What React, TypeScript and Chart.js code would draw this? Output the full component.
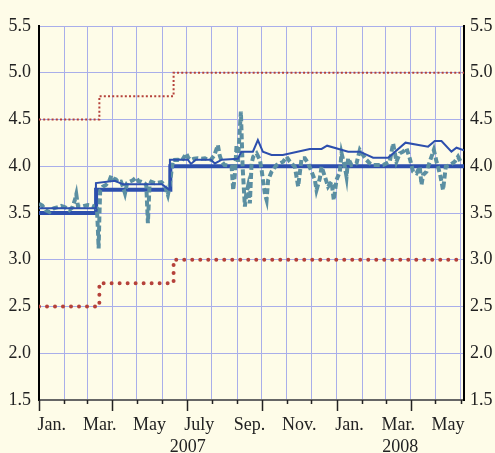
import React, { useEffect, useRef } from 'react';
import { Chart, registerables } from 'chart.js';

Chart.register(...registerables);

// x values are days since 1 Jan 2007
const monthStartDays = [0, 31, 59, 90, 120, 151, 181, 212, 243, 273, 304, 334, 365, 396, 425, 456, 486, 517];
const quarterStartDays = [0, 90, 181, 273, 365, 456];
const monthLabels = ['Jan.', 'Mar.', 'May', 'July', 'Sep.', 'Nov.', 'Jan.', 'Mar.', 'May'];
const monthLabelDays = [15.5, 74.5, 135.5, 196.5, 258, 319, 380.5, 440.5, 501.5];
const yearLabels = ['2007', '2008'];
const yearLabelDays = [182.5, 443];
const xMin = 0;
const xMax = 521;
const yMin = 1.5;
const yMax = 5.5;
const yStep = 0.5;

// Upper and lower bounds (step lines)
const upperDays = [0, 74, 165, 521];
const upperValues = [4.5, 4.75, 5.0, 5.0];
const lowerDays = [0, 74, 165, 521];
const lowerValues = [2.5, 2.75, 3.0, 3.0];

// Target rate (thick step line)
const targetDays = [0, 70, 161, 521];
const targetValues = [3.5, 3.75, 4.0, 4.0];

// Thin blue series
const thinDays = [0, 69, 69.8, 93, 103, 150.7, 159.5, 160.5, 182.5, 186.2, 192.4, 210.7, 215.6, 224.2, 243.8, 248.1, 262.2, 268.3, 274.4, 285.1, 298.9, 332, 346.4, 353.2, 379, 393.3, 409.6, 428, 449.3, 477, 485.2, 493.4, 505.6, 511.8, 521];
const thinValues = [3.55, 3.55, 3.82, 3.845, 3.807, 3.807, 3.75, 4.07, 4.07, 4.025, 4.07, 4.07, 4.03, 4.07, 4.08, 4.156, 4.156, 4.28, 4.156, 4.12, 4.12, 4.185, 4.185, 4.22, 4.156, 4.156, 4.092, 4.092, 4.252, 4.21, 4.27, 4.27, 4.156, 4.198, 4.17];

// Teal dashed series (daily market rate)
const marketDays = [
  0, 4, 8, 13, 18, 22, 27, 32, 37, 41, 44, 45.7, 47.8, 53, 60, 65, 68.2, 71, 72.3, 73.1, 74, 75, 78, 82, 86, 88.6,
  91, 94.3, 97, 100.5, 103, 105.4, 108, 111.1, 115, 119.2, 122, 125, 129.5, 131.5, 133.5, 135.5, 137.6, 142, 145.8,
  150, 154, 158, 160, 162.1, 164.2, 170, 175, 178, 180.5, 183, 186.2, 190, 194.8, 199, 203.4, 207, 210.7, 215, 219.3,
  221.4, 224, 227.5, 231, 236.1, 238.1, 240, 242.2, 243.8, 245.5, 247.5, 249.6, 252.4, 254, 256.1, 258.5, 260.6,
  262.6, 266.7, 270.8, 272.9, 274.8, 277, 279, 280.9, 285.1, 291.2, 299.3, 303.5, 307.5, 313.6, 317.7, 321.9, 325.9,
  329.9, 334.1, 338.2, 340.2, 344.3, 346.4, 350.4, 354.4, 358.6, 361.4, 364.7, 368.8, 370.9, 374.9, 377, 379, 383.1,
  389.2, 393.3, 397.3, 401.5, 405.5, 409.6, 415.7, 421.8, 426, 430, 434.1, 438.2, 442.3, 446.3, 450.5, 454.5, 458.6,
  462.8, 466.8, 468.9, 470.8, 475, 479, 484, 487.3, 489.2, 492.2, 495.3, 498.7, 503.6, 509.7, 513.7, 517.9,
];
const marketValues = [
  3.6, 3.58, 3.53, 3.51, 3.55, 3.56, 3.575, 3.56, 3.53, 3.56, 3.64, 3.7, 3.57, 3.57, 3.586, 3.58, 3.568, 3.55, 3.3, 3.12, 3.45, 3.74, 3.78, 3.8, 3.84, 3.9,
  3.87, 3.86, 3.83, 3.835, 3.78, 3.71, 3.82, 3.835, 3.85, 3.88, 3.84, 3.835, 3.817, 3.8, 3.39, 3.8, 3.835, 3.82, 3.824,
  3.83, 3.8, 3.693, 3.78, 3.924, 4.067, 4.07, 4.06, 4.1, 4.138, 4.09, 4.067, 4.08, 4.085, 4.08, 4.085, 4.07, 4.067, 4.12, 4.227,
  4.12, 4.05, 4.013, 4.01, 3.996, 3.746, 3.9, 4.227, 4.031, 4.3, 4.584, 3.996, 3.568, 3.7, 3.782, 3.603, 4.031,
  4.102, 4.138, 4.067, 3.96, 3.835, 3.7, 3.639, 3.853, 3.942, 4.013, 4.049, 4.102, 4.049, 3.996, 3.782, 4.085, 4.085,
  4.031, 3.942, 3.853, 3.746, 3.871, 3.996, 3.889, 3.782, 3.835, 3.639, 3.853, 3.942, 4.138, 3.996, 3.889, 4.085, 4.013,
  4.031, 4.174, 4.12, 4.067, 4.031, 4.013, 4.013, 4.013, 4.031, 4.049, 4.245, 4.049, 4.138, 4.156, 4.192, 4.085, 3.942,
  3.924, 3.996, 3.8, 3.906, 3.942, 4.049, 4.174, 4.049, 3.996, 3.889, 3.746, 3.996, 4.013, 4.049, 4.102, 4.031,
];

const BG = '#fefce8';
const GRID = '#a9aeea';
const FONT = { family: '"Liberation Serif", "Times New Roman", serif', size: 18 };
const TEXT = '#222';

const toPoints = (xs: number[], ys: number[]) => xs.map((x, i) => ({ x, y: ys[i] }));

const bgPlugin = {
  id: 'bgFill',
  beforeDraw(chart: any) {
    const { ctx, width, height } = chart;
    ctx.save();
    ctx.fillStyle = BG;
    ctx.fillRect(0, 0, width, height);
    ctx.restore();
  },
};

const tickPlugin = {
  id: 'monthTicks',
  afterDraw(chart: any) {
    const xs = chart.scales.x;
    const ctx = chart.ctx;
    const y0 = chart.chartArea.bottom;
    ctx.save();
    ctx.strokeStyle = TEXT;
    ctx.lineWidth = 1.5;
    monthStartDays.forEach((d) => {
      const px = Math.round(xs.getPixelForValue(d)) + 0.5;
      const len = quarterStartDays.includes(d) ? 11 : 4;
      ctx.beginPath();
      ctx.moveTo(px, y0);
      ctx.lineTo(px, y0 + len);
      ctx.stroke();
    });
    ctx.restore();
  },
};

export default function App() {
  const ref = useRef<HTMLCanvasElement | null>(null);

  useEffect(() => {
    document.body.style.margin = '0';
    document.body.style.background = BG;
    const canvas = ref.current;
    if (!canvas) return;
    const chart = new Chart(canvas, {
      type: 'line',
      data: {
        datasets: [
          {
            label: 'Thin',
            data: toPoints(thinDays, thinValues),
            borderColor: '#2d4fad',
            borderWidth: 2,
            pointRadius: 0,
            tension: 0,
          },
          {
            label: 'Market',
            data: toPoints(marketDays, marketValues),
            borderColor: '#5b8fa2',
            borderWidth: 4,
            borderDash: [6, 3],
            pointRadius: 0,
            tension: 0,
          },
          {
            label: 'Target',
            data: toPoints(targetDays, targetValues),
            borderColor: '#2d4fad',
            borderWidth: 4,
            stepped: true,
            pointRadius: 0,
          },
          {
            label: 'Upper',
            data: toPoints(upperDays, upperValues),
            borderColor: '#b5413a',
            borderWidth: 2,
            borderDash: [2, 2.2],
            stepped: true,
            pointRadius: 0,
          },
          {
            label: 'Lower',
            data: toPoints(lowerDays, lowerValues),
            borderColor: '#b5413a',
            borderWidth: 4,
            borderDash: [0, 8],
            borderCapStyle: 'round',
            stepped: true,
            pointRadius: 0,
          },
        ],
      } as any,
      options: {
        responsive: false,
        animation: false,
        devicePixelRatio: 1,
        layout: { padding: { top: 26, left: 0, right: 0, bottom: 0 } },
        plugins: {
          legend: { display: false },
          tooltip: { enabled: false },
          title: { display: false },
        },
        scales: {
          x: {
            type: 'linear',
            position: 'bottom',
            min: xMin,
            max: xMax,
            afterBuildTicks: (scale: any) => {
              const vals = [...monthStartDays, ...monthLabelDays].sort((a, b) => a - b);
              scale.ticks = vals.map((v) => ({ value: v }));
            },
            afterFit: (scale: any) => {
              scale.height = 36;
            },
            ticks: {
              autoSkip: false,
              maxRotation: 0,
              minRotation: 0,
              padding: 14,
              color: TEXT,
              font: FONT,
              callback: (v: any) => {
                const i = monthLabelDays.indexOf(Number(v));
                return i >= 0 ? monthLabels[i] : '';
              },
            },
            grid: {
              drawTicks: false,
              lineWidth: 1,
              color: (ctx: any) =>
                ctx.tick && monthStartDays.includes(ctx.tick.value) ? GRID : 'rgba(0,0,0,0)',
            },
            border: { display: true, color: '#666', width: 2 },
          },
          xYear: {
            type: 'linear',
            position: 'bottom',
            min: xMin,
            max: xMax,
            afterBuildTicks: (scale: any) => {
              scale.ticks = yearLabelDays.map((v) => ({ value: v }));
            },
            afterFit: (scale: any) => {
              scale.height = 17;
            },
            ticks: {
              autoSkip: false,
              maxRotation: 0,
              minRotation: 0,
              padding: 0,
              color: TEXT,
              font: FONT,
              callback: (v: any) => {
                const i = yearLabelDays.indexOf(Number(v));
                return i >= 0 ? yearLabels[i] : '';
              },
            },
            grid: { display: false, drawTicks: false },
            border: { display: false },
          },
          y: {
            type: 'linear',
            position: 'left',
            min: yMin,
            max: yMax,
            afterFit: (scale: any) => {
              scale.width = 39;
            },
            ticks: {
              stepSize: yStep,
              padding: 8,
              color: TEXT,
              font: FONT,
              callback: (v: any) => Number(v).toFixed(1),
            },
            grid: { color: GRID, lineWidth: 1, drawTicks: false },
            border: { display: true, color: '#000', width: 2 },
          },
          y2: {
            type: 'linear',
            position: 'right',
            min: yMin,
            max: yMax,
            afterFit: (scale: any) => {
              scale.width = 31;
            },
            ticks: {
              stepSize: yStep,
              padding: 6,
              color: TEXT,
              font: FONT,
              callback: (v: any) => Number(v).toFixed(1),
            },
            grid: { display: false, drawTicks: false },
            border: { display: true, color: '#000', width: 2 },
          },
        },
      } as any,
      plugins: [bgPlugin, tickPlugin],
    });
    return () => chart.destroy();
  }, []);

  return (
    <div style={{ width: 495, height: 453, background: BG }}>
      <canvas ref={ref} width={495} height={453} style={{ display: 'block', width: 495, height: 453 }} />
    </div>
  );
}
